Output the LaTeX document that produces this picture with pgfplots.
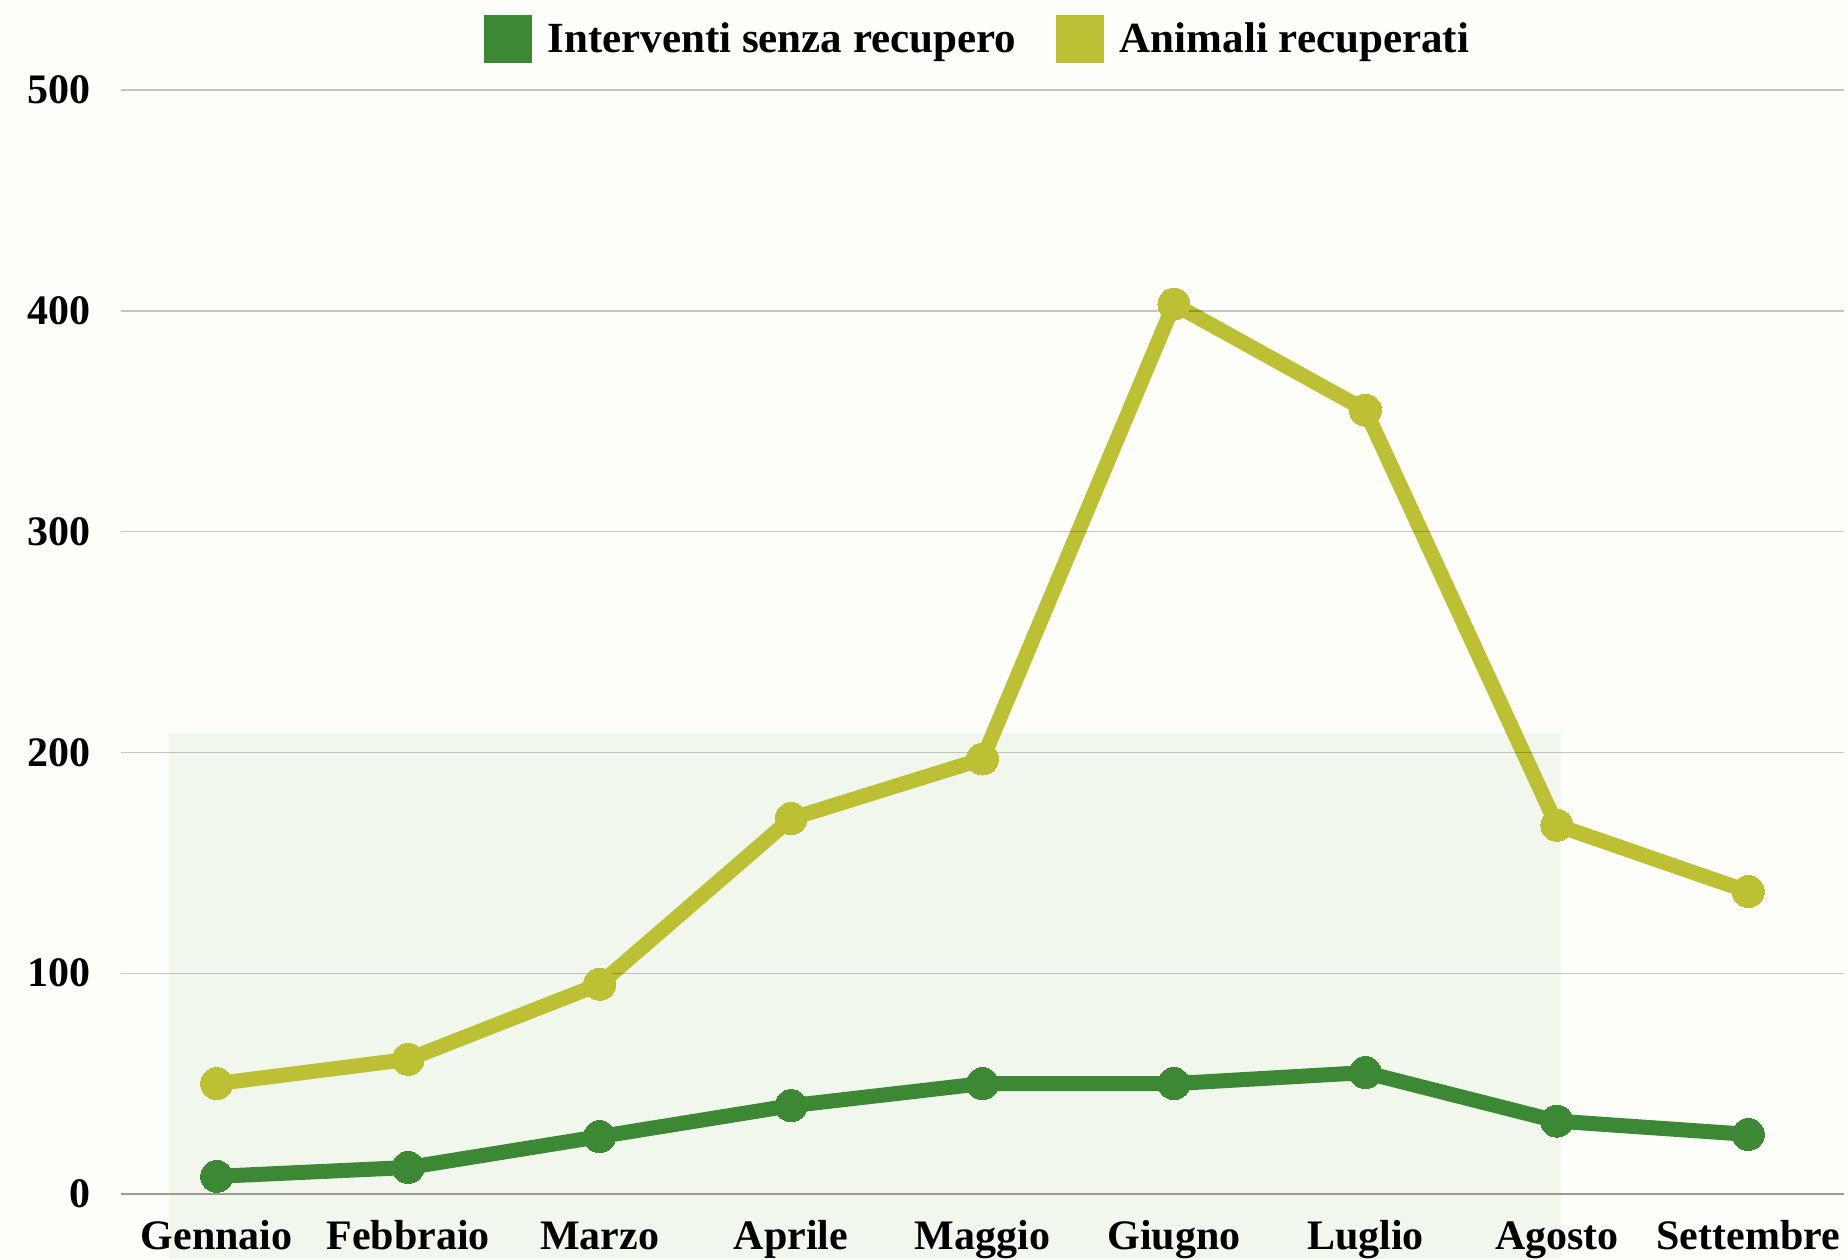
\documentclass[border=0pt]{standalone}
\usepackage{fontspec}
\setmainfont{Liberation Serif}
\usepackage{pgfplots}
\pgfplotsset{compat=1.18}
\definecolor{bg}{HTML}{FDFEF9}
\definecolor{cgreen}{HTML}{3C8834}
\definecolor{cyellow}{HTML}{BDBF34}
\definecolor{axisc}{HTML}{9A9A92}
\begin{document}
\begin{tikzpicture}
\fill[bg] (-60.5pt,-32.5pt) rectangle (863.5pt,597pt);
\begin{axis}[
  at={(0pt,0pt)}, anchor=south west,
  scale only axis, width=861.5pt, height=552pt,
  xmin=-0.5, xmax=8.5, ymin=0, ymax=500,
  clip=false, axis on top,
  axis x line*=bottom, axis y line*=left,
  x axis line style={draw=axisc, line width=1pt, -},
  y axis line style={draw=none},
  xtick={0,...,8},
  xticklabels={Gennaio,Febbraio,Marzo,Aprile,Maggio,Giugno,Luglio,Agosto,Settembre},
  ytick={0,100,...,500},
  /pgf/number format/assume math mode=true,
  ymajorgrids, major grid style={draw=black, draw opacity=0.22, line width=0.7pt},
  major tick length=0pt,
  tick label style={font=\fontsize{21}{25}\selectfont\bfseries, text=black},
  xticklabel style={anchor=base, inner sep=0pt, yshift=-27.5pt},
  yticklabel style={anchor=east, inner sep=0pt, xshift=-15pt},
  legend style={at={(axis description cs:0.5,1)}, anchor=center, yshift=25.5pt, xshift=-2pt,
    draw=none, fill=none, font=\fontsize{21.5}{25}\selectfont\bfseries,
    /tikz/every even column/.append style={column sep=18pt}},
  legend columns=2,
  legend cell align=left,
]
\fill[cgreen, fill opacity=0.055] (axis cs:-0.25,-29.3) rectangle (axis cs:7.02,209);
\addplot[cgreen, line width=7.5pt, mark=*, mark size=8pt, mark options={draw=cgreen, fill=cgreen, line width=0pt},
  legend image code/.code={\path[fill=cgreen, draw=none] (0pt,-12pt) rectangle (24pt,12pt); \path (26pt,0pt);}]
  coordinates {(0,8) (1,12) (2,26) (3,40) (4,50) (5,50) (6,55) (7,33) (8,27)};
\addlegendentry{Interventi senza recupero}
\addplot[cyellow, line width=7.5pt, mark=*, mark size=8pt, mark options={draw=cyellow, fill=cyellow, line width=0pt},
  legend image code/.code={\path[fill=cyellow, draw=none] (0pt,-12pt) rectangle (24pt,12pt); \path (26pt,0pt);}]
  coordinates {(0,50) (1,61) (2,95) (3,170) (4,197) (5,403) (6,355) (7,167) (8,137)};
\addlegendentry{Animali recuperati}
\end{axis}
\pgfresetboundingbox
\useasboundingbox (-60.5pt,-32.5pt) rectangle (863.5pt,597pt);
\end{tikzpicture}
\end{document}
